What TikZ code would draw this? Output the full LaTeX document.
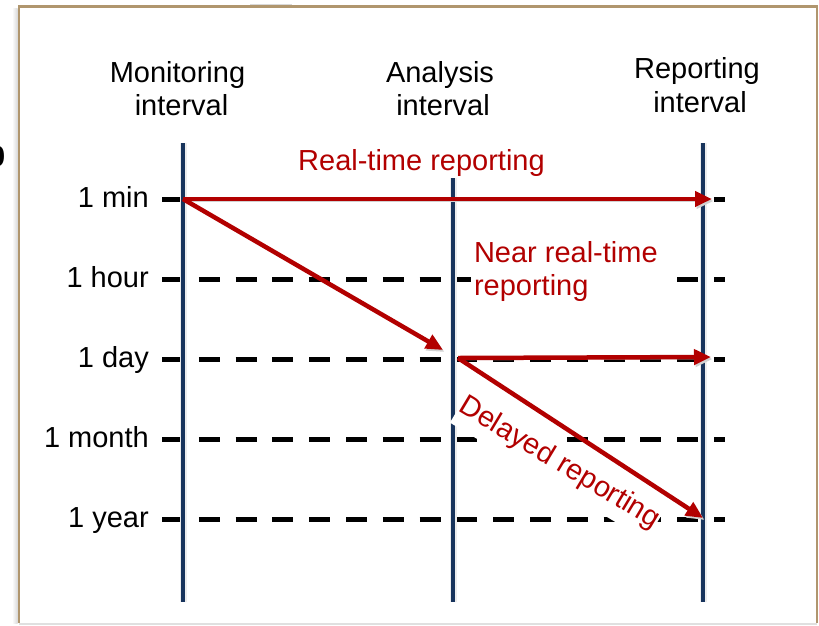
\documentclass[tikz,border=0pt]{standalone}
\usepackage{fontspec}
\setmainfont{Liberation Sans}
\usetikzlibrary{arrows.meta}
\definecolor{axisnavy}{RGB}{24,52,92}
\definecolor{flowred}{RGB}{178,0,0}
\definecolor{frametan}{RGB}{176,150,110}
\begin{document}
\begin{tikzpicture}[x=1pt,y=-1pt,
  lbl/.style={font=\fontsize{29}{33}\selectfont, inner sep=0pt},
  redlbl/.style={lbl, text=flowred},
  gridline/.style={line width=5pt, dash pattern=on 21pt off 15.8pt},
  axis/.style={draw=axisnavy, line width=4.5pt, preaction={draw=black!7, line width=7pt}},
  flow/.style={draw=flowred, line width=4.5pt, -{Triangle[length=17pt,width=15pt]},
    preaction={draw=black!18, transform canvas={shift={(1.5pt,-2pt)}}}},
]
\useasboundingbox (0,0) rectangle (819,625);

% slide frame and its shadow
\shade[left color=white, right color=black!15] (12,8) rectangle (17.5,623);
\draw[black!15, line width=2pt] (250,4.5) -- (292,4.5);
\draw[frametan, line width=2.4pt] (18.7,623) -- (18.7,6.5) -- (816.8,6.5) -- (816.8,623);
\draw[black!12, line width=2pt] (18.7,623.5) -- (816.8,623.5);
\node[lbl, font=\fontsize{29}{33}\selectfont\bfseries, anchor=base east] (edge0) at (5.5,166.5) {0};

% column headings
\node[lbl, anchor=base] (mon1) at (177.5,82) {Monitoring};
\node[lbl, anchor=base] (mon2) at (181.5,115) {interval};
\node[lbl, anchor=base] (ana1) at (440,82) {Analysis};
\node[lbl, anchor=base] (ana2) at (443,115) {interval};
\node[lbl, anchor=base] (rep1) at (697,78) {Reporting};
\node[lbl, anchor=base] (rep2) at (700,112) {interval};

% time scale rows
\foreach \y/\txt/\nm in {199/1 min/min, 279/1 hour/hour, 359/1 day/day, 439/1 month/month, 519/1 year/year}{
  \node[lbl, anchor=base east] (t\nm) at (149,\y+8) {\txt};
  \draw[gridline] (162,\y) -- (725,\y);
}

% interval axes
\draw[axis] (183,143) -- (183,602);
\draw[axis] (453,178) -- (453,602);
\draw[axis] (703,143) -- (703,602);

% reporting labels
\node[redlbl, anchor=base] (rt) at (421.5,170.5) {Real-time reporting};
\node[redlbl, align=left, fill=white, inner sep=3pt, anchor=north west] (nrt) at (470.8,238.2) {Near real-time\\reporting};
\node[redlbl, fill=white, inner xsep=0pt, inner ysep=8pt, rotate=-31, anchor=base west] (dly) at (457,410.5) {Delayed reporting};

% reporting flows
\coordinate (m1) at (183,199);
\coordinate (rtEnd) at (712,199);
\coordinate (aDay) at (443,350);
\coordinate (aStart) at (458,358);
\coordinate (nEnd) at (711,357);
\coordinate (dEnd) at (703,518);
\draw[flow] (m1) -- (rtEnd);
\draw[flow] (m1) -- (aDay);
\draw[flow] (aStart) -- (nEnd);
\draw[flow] (aStart) -- (dEnd);
\end{tikzpicture}
\end{document}
